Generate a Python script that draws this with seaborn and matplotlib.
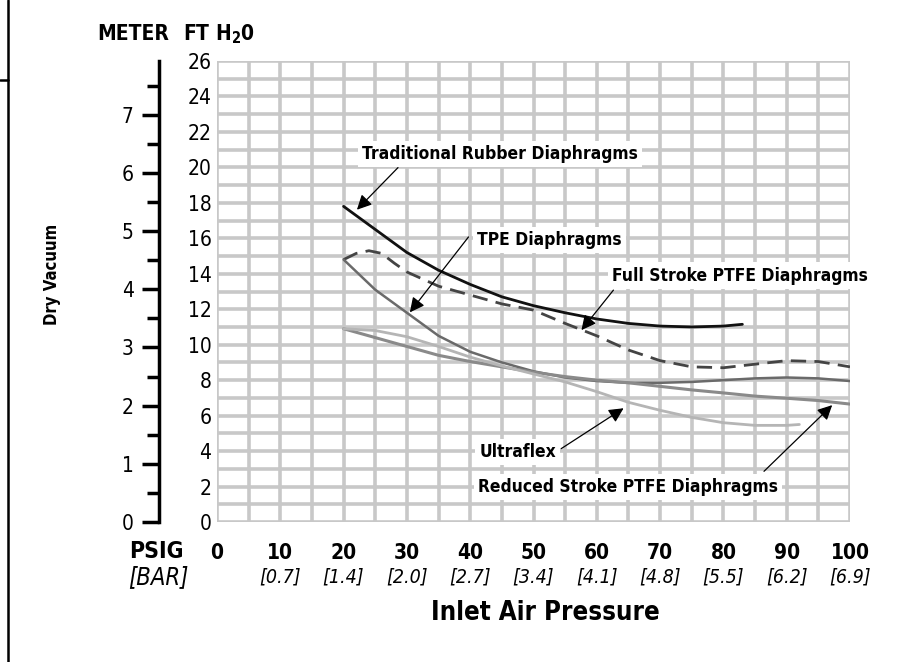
import matplotlib
matplotlib.use("Agg")
import matplotlib.pyplot as plt
import matplotlib.lines as mlines
import pandas as pd
import seaborn as sns

# data (x = inlet air pressure psig, y = dry vacuum ft H2O)
rubber_x = [20, 25, 30, 35, 40, 45, 50, 55, 60, 65, 70, 75, 80, 83]
rubber_y = [17.8, 16.5, 15.2, 14.2, 13.4, 12.7, 12.2, 11.8, 11.45, 11.2, 11.05, 11.0, 11.05, 11.15]

full_x = [20, 22, 24, 26, 28, 30, 35, 40, 45, 50, 55, 60, 65, 70, 75, 80, 85, 90, 95, 100]
full_y = [14.8, 15.15, 15.3, 15.15, 14.6, 14.1, 13.3, 12.8, 12.3, 11.95, 11.2, 10.5, 9.7, 9.1, 8.75, 8.7, 8.9, 9.1, 9.05, 8.75]

tpe_x = [20, 25, 30, 35, 40, 45, 50, 55, 60, 65, 70, 75, 80, 85, 90, 95, 100]
tpe_y = [14.8, 13.1, 11.8, 10.5, 9.6, 9.0, 8.5, 8.15, 7.95, 7.85, 7.85, 7.9, 8.0, 8.1, 8.15, 8.1, 7.95]

reduced_x = [20, 25, 30, 35, 40, 45, 50, 55, 60, 65, 70, 75, 80, 85, 90, 95, 100]
reduced_y = [10.9, 10.4, 9.9, 9.4, 9.05, 8.75, 8.45, 8.2, 8.0, 7.85, 7.65, 7.45, 7.28, 7.1, 6.98, 6.85, 6.65]

ultra_x = [20, 25, 30, 35, 40, 45, 50, 55, 60, 65, 70, 75, 80, 85, 90, 92]
ultra_y = [10.9, 10.8, 10.45, 9.9, 9.3, 8.8, 8.35, 7.9, 7.35, 6.75, 6.3, 5.9, 5.6, 5.45, 5.45, 5.5]

psig_ticks = [0, 10, 20, 30, 40, 50, 60, 70, 80, 90, 100]
bar_labels = ["", "[0.7]", "[1.4]", "[2.0]", "[2.7]", "[3.4]", "[4.1]", "[4.8]", "[5.5]", "[6.2]", "[6.9]"]
ft_ticks = list(range(0, 27, 2))
meter_ticks = list(range(0, 8))

sns.set_style("white")
plt.rcParams["font.family"] = ["DejaVu Sans"]
plt.rcParams["font.stretch"] = "condensed"
plt.rcParams["text.color"] = "black"
plt.rcParams["xtick.color"] = "black"
plt.rcParams["ytick.color"] = "black"
plt.rcParams["axes.labelcolor"] = "black"
plt.rcParams["mathtext.fontset"] = "dejavusans"

fig = plt.figure(figsize=(9.16, 6.62), dpi=100)
ax = fig.add_axes([217 / 916, 1 - 522 / 662, 633 / 916, 461 / 662])

# grid every 5 psi / 1 ft
ax.set_xlim(0, 100)
ax.set_ylim(0, 26)
ax.xaxis.remove_overlapping_locs = False
ax.yaxis.remove_overlapping_locs = False
ax.set_xticks(range(0, 101, 5), minor=True)
ax.set_yticks(range(0, 27), minor=True)
ax.grid(which="minor", color="#c8c8c8", linewidth=2.6)
ax.grid(which="major", visible=False)
ax.set_axisbelow(True)
for s in ax.spines.values():
    s.set_visible(False)

series = [
    (rubber_x, rubber_y, "#111111", 2.0, "-"),
    (full_x, full_y, "#444444", 2.0, (0, (5.5, 3))),
    (tpe_x, tpe_y, "#6a6a6a", 1.8, "-"),
    (reduced_x, reduced_y, "#8a8a8a", 2.2, "-"),
    (ultra_x, ultra_y, "#b5b5b5", 2.0, "-"),
]
for xs, ys, col, lw, ls in series:
    df = pd.DataFrame({"x": xs, "y": ys})
    sns.lineplot(data=df, x="x", y="y", ax=ax, color=col, linewidth=lw,
                 linestyle=ls, sort=False)

ax.set_xlabel("")
ax.set_ylabel("")
ax.set_xticks(psig_ticks)
ax.set_xticklabels([str(v) for v in psig_ticks], fontweight="bold", fontsize=15)
ax.set_yticks(ft_ticks)
ax.set_yticklabels([str(v) for v in ft_ticks], fontsize=15)
ax.tick_params(axis="both", which="both", length=0)
ax.tick_params(axis="x", pad=15)
ax.tick_params(axis="y", pad=4)

# bar labels under psig
for xv, lab in zip(psig_ticks, bar_labels):
    ax.text(xv, -0.12, lab, transform=ax.get_xaxis_transform(), ha="center",
            va="center", fontsize=14, fontstyle="italic")

# meter axis
sec = ax.secondary_yaxis(-0.092, functions=(lambda f: f / 3.281, lambda m: m * 3.281))
sec.set_yticks(meter_ticks)
sec.set_yticks([v + 0.5 for v in meter_ticks], minor=True)
sec.set_yticklabels([str(v) for v in meter_ticks], fontsize=15)
sec.spines["left"].set_linewidth(2.5)
sec.spines["left"].set_color("black")
sec.tick_params(axis="y", which="major", length=12, width=2.5, color="black", pad=6)
sec.tick_params(axis="y", which="minor", length=9, width=2.5, color="black")

# annotations
bbox = dict(facecolor="white", edgecolor="none", pad=3)
arrow = dict(arrowstyle="-|>", color="black", lw=0.9, mutation_scale=22)
notes = [
    ("Traditional Rubber Diaphragms", (21.8, 17.5), (44.7, 20.75), (28.9, 20.1)),
    ("TPE Diaphragms", (30.2, 11.7), (52.5, 15.9), (40.0, 16.2)),
    ("Full Stroke PTFE Diaphragms", (57.3, 10.7), (82.6, 13.9), (62.9, 13.2)),
    ("Ultraflex", (64.6, 6.5), (47.5, 3.95), (54.0, 4.05)),
    ("Reduced Stroke PTFE Diaphragms", (97.5, 6.7), (64.9, 1.97), (86.1, 2.75)),
]
for text, tip, tpos, tail in notes:
    ax.annotate("", xy=tip, xytext=tail, arrowprops=arrow)
    ax.text(tpos[0], tpos[1], text, ha="center", va="center", fontsize=12.5,
            fontweight="bold", bbox=bbox)

# headers and axis titles
fig.text(133 / 916, 1 - 34 / 662, "METER", ha="center", va="center", fontsize=15, fontweight="bold")
fig.text(219 / 916, 1 - 34 / 662, r"FT H$_\mathbf{2}$0", ha="center", va="center", fontsize=15, fontweight="bold")
fig.text(52 / 916, 1 - 274 / 662, "Dry Vacuum", ha="center", va="center", rotation=90,
         fontsize=12, fontweight="bold")
fig.text(156 / 916, 1 - 552 / 662, "PSIG", ha="center", va="center", fontsize=16.5, fontweight="bold")
fig.text(158 / 916, 1 - 577 / 662, "[BAR]", ha="center", va="center", fontsize=17, fontstyle="italic")
fig.text(545 / 916, 1 - 613 / 662, "Inlet Air Pressure", ha="center", va="center",
         fontsize=18.5, fontweight="bold")

# page edge lines
fig.add_artist(mlines.Line2D([8 / 916, 8 / 916], [0, 1], color="black", lw=1.8))
fig.add_artist(mlines.Line2D([0, 8 / 916], [1 - 80 / 662, 1 - 80 / 662], color="black", lw=1.8))

fig.savefig("out.png", dpi=100)
